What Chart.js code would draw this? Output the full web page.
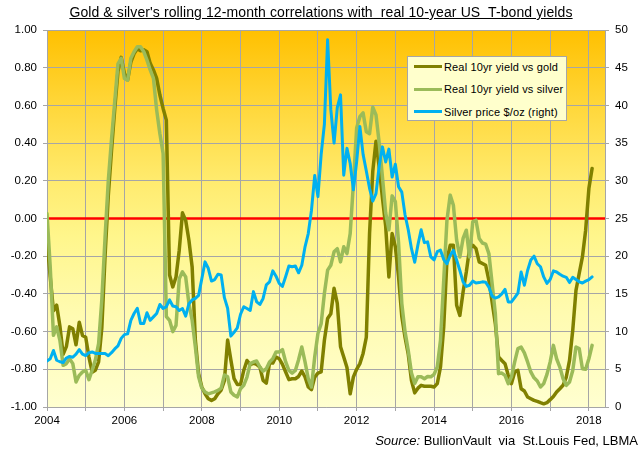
<!DOCTYPE html>
<html>
<head>
<meta charset="utf-8">
<script src="https://cdn.jsdelivr.net/npm/chart.js@4.4.1/dist/chart.umd.min.js"></script>
<style>
html,body{margin:0;padding:0;background:#fff;}
#wrap{position:relative;width:640px;height:452px;overflow:hidden;font-family:"Liberation Sans",Arial,sans-serif;color:#000;}
#c{position:absolute;left:0;top:0;}
#title{position:absolute;left:1px;top:4px;width:640px;text-align:center;font-size:14px;line-height:17px;letter-spacing:0.1px;text-decoration:underline;white-space:pre;}
#source{position:absolute;right:2px;top:433px;font-size:13px;line-height:15px;white-space:pre;}
#legend{position:absolute;left:407px;top:56px;width:158px;height:63px;background:#FFFFCC;border:1px solid #A6A6A6;}
.row{position:absolute;left:0;height:14px;width:158px;}
.sw{position:absolute;left:6px;top:5.5px;width:28px;height:3px;}
.lt{position:absolute;left:36px;top:0;font-size:11px;line-height:14px;letter-spacing:0.15px;white-space:pre;}
</style>
</head>
<body>
<div id="wrap">
<canvas id="c" width="640" height="452"></canvas>
<div id="title">Gold &amp; silver's rolling 12-month correlations with  real 10-year US  T-bond yields</div>
<div id="legend">
  <div class="row" style="top:2.7px"><span class="sw" style="background:#808000"></span><span class="lt">Real 10yr yield vs gold</span></div>
  <div class="row" style="top:25.3px"><span class="sw" style="background:#9BBB59"></span><span class="lt">Real 10yr yield vs silver</span></div>
  <div class="row" style="top:47.7px"><span class="sw" style="background:#00B0F0"></span><span class="lt">Silver price $/oz (right)</span></div>
</div>
<div id="source"><i>Source:</i> BullionVault  via  St.Louis Fed, LBMA</div>
</div>
<script>
// Monthly data, Jan 2004 .. Feb 2018 (index 0 = Jan 2004)
const startYear = 2004;
const yearTickYears = [2004,2005,2006,2007,2008,2009,2010,2011,2012,2013,2014,2015,2016,2017,2018];
const yearLabels = ['2004','2006','2008','2010','2012','2014','2016','2018'];

const goldCorr = [
 -0.12,-0.31,-0.49,-0.46,-0.57,-0.72,-0.68,-0.575,-0.585,-0.67,-0.55,-0.62,
 -0.63,-0.735,-0.815,-0.805,-0.76,-0.58,-0.2,0.12,0.36,0.58,0.78,0.855,
 0.77,0.735,0.83,0.875,0.9,0.89,0.895,0.885,0.823,0.788,0.743,0.655,
 0.584,0.522,-0.3,-0.363,-0.31,-0.168,0.03,-0.01,-0.115,-0.257,-0.646,-0.823,
 -0.894,-0.93,-0.956,-0.965,-0.956,-0.93,-0.91,-0.86,-0.645,-0.75,-0.85,-0.88,
 -0.88,-0.806,-0.753,-0.776,-0.767,-0.774,-0.788,-0.859,-0.873,-0.767,-0.767,-0.735,
 -0.744,-0.774,-0.814,-0.855,-0.85,-0.85,-0.838,-0.809,-0.841,-0.894,-0.908,-0.841,
 -0.82,-0.814,-0.646,-0.53,-0.505,-0.37,-0.45,-0.68,-0.735,-0.79,-0.93,-0.84,
 -0.80,-0.77,-0.716,-0.63,-0.08,0.25,0.41,0.27,0.11,-0.04,-0.31,-0.08,
 -0.15,-0.31,-0.52,-0.63,-0.72,-0.86,-0.925,-0.9,-0.885,-0.89,-0.89,-0.89,
 -0.894,-0.876,-0.788,-0.575,-0.221,-0.142,-0.142,-0.46,-0.514,-0.39,-0.284,-0.16,
 -0.142,-0.16,-0.23,-0.239,-0.248,-0.328,-0.443,-0.558,-0.735,-0.753,-0.77,-0.832,
 -0.876,-0.814,-0.806,-0.903,-0.915,-0.947,-0.956,-0.965,-0.97,-0.977,-0.983,-0.977,
 -0.961,-0.944,-0.92,-0.903,-0.885,-0.841,-0.753,-0.593,-0.381,-0.292,-0.204,-0.062,
 0.159,0.265
];

const silverCorr = [
 0.026,-0.257,-0.62,-0.575,-0.646,-0.779,-0.77,-0.744,-0.77,-0.867,-0.832,-0.814,
 -0.805,-0.855,-0.805,-0.75,-0.664,-0.43,-0.1,0.2,0.42,0.62,0.82,0.85,
 0.743,0.734,0.85,0.885,0.911,0.911,0.885,0.84,0.788,0.743,0.575,0.45,
 0.345,-0.52,-0.54,-0.6,-0.567,-0.32,-0.283,-0.31,-0.452,-0.54,-0.682,-0.84,
 -0.9,-0.92,-0.93,-0.925,-0.92,-0.912,-0.9,-0.83,-0.84,-0.92,-0.938,-0.947,
 -0.903,-0.885,-0.841,-0.77,-0.761,-0.756,-0.788,-0.81,-0.797,-0.761,-0.744,-0.708,
 -0.708,-0.696,-0.761,-0.806,-0.82,-0.806,-0.749,-0.682,-0.761,-0.85,-0.894,-0.735,
 -0.61,-0.558,-0.398,-0.274,-0.248,-0.177,-0.16,-0.23,-0.15,-0.186,-0.08,0.186,
 0.48,0.54,0.56,0.46,0.45,0.59,0.55,0.40,0.22,0.03,-0.06,0.12,
 0.09,-0.13,-0.45,-0.6,-0.7,-0.82,-0.875,-0.84,-0.84,-0.85,-0.838,-0.84,
 -0.827,-0.788,-0.646,-0.328,-0.009,0.124,0.07,-0.115,-0.204,-0.106,-0.062,-0.204,
 -0.018,-0.009,-0.106,-0.13,-0.136,-0.186,-0.345,-0.505,-0.823,-0.82,-0.832,-0.876,
 -0.84,-0.761,-0.69,-0.682,-0.713,-0.761,-0.814,-0.845,-0.862,-0.894,-0.876,-0.827,
 -0.761,-0.673,-0.744,-0.788,-0.85,-0.885,-0.867,-0.806,-0.682,-0.69,-0.797,-0.80,
 -0.744,-0.673
];

const silverPrice = [
 6.1,6.4,7.5,6.2,6.0,5.9,6.5,6.7,6.6,7.0,7.6,7.0,
 6.8,7.2,7.3,7.1,7.1,7.1,7.1,6.8,7.2,7.7,8.1,9.1,
 9.6,9.7,11.5,12.4,13.1,11.07,11.07,12.5,11.5,11.95,12.4,13.6,
 13.06,13.3,14.2,13.4,13.3,12.8,13.06,12.04,13.7,14.2,14.4,14.8,
 17.0,19.25,18.4,16.7,16.9,17.6,17.5,14.5,13.1,9.4,9.9,10.5,
 12.3,13.3,13.06,12.8,15.3,13.95,13.6,14.4,16.2,16.6,18.06,17.35,
 16.4,16.0,17.3,18.7,18.6,18.7,17.8,18.8,21.25,23.0,26.1,30.7,
 27.9,33.5,37.5,48.7,39.4,35.0,39.7,41.4,30.75,34.3,32.3,28.8,
 32.5,37.2,33.5,31.3,29.0,27.3,28.3,32.0,34.5,32.5,34.2,30.5,
 32.2,29.2,28.5,25.5,23.5,21.0,19.2,21.5,23.5,21.8,21.9,19.9,
 19.5,20.6,20.8,19.55,19.0,20.1,20.8,19.5,18.1,16.6,16.0,16.15,
 16.7,16.45,16.5,16.6,16.55,15.9,14.7,14.45,14.6,15.0,15.6,13.94,
 13.94,14.5,15.1,17.9,16.15,18.1,19.5,20.0,19.0,18.6,17.25,16.4,
 16.9,18.05,17.9,17.6,17.35,17.2,16.5,17.2,16.9,16.6,16.45,16.7,
 16.9,17.25
];

const seriesLabels = ['Real 10yr yield vs gold','Real 10yr yield vs silver','Silver price $/oz (right)'];
const seriesColors = ['#808000','#9BBB59','#00B0F0'];

const toPoints = arr => arr.map((v,i)=>({x:i,y:v}));
const yearTickValues = yearTickYears.map(y => (y - startYear) * 12);

const bgPlugin = {
  id:'bgPlugin',
  beforeDraw(chart){
    const {ctx, chartArea:{left,top,right,bottom}} = chart;
    ctx.save();
    ctx.fillStyle = '#ffffff';
    ctx.fillRect(0,0,chart.width,chart.height);
    const g = ctx.createLinearGradient(0,top,0,bottom);
    g.addColorStop(0,'#FFC000');
    g.addColorStop(0.2,'#FFD73A');
    g.addColorStop(0.4,'#FFEB6E');
    g.addColorStop(0.55,'#FFF68C');
    g.addColorStop(0.75,'#FFFBB0');
    g.addColorStop(1,'#FFFFD0');
    ctx.fillStyle = g;
    ctx.fillRect(left,top,right-left,bottom-top);
    ctx.restore();
  },
  beforeDatasetsDraw(chart){
    const {ctx, chartArea:{left,right}, scales:{y}} = chart;
    const py = y.getPixelForValue(0);
    ctx.save();
    ctx.strokeStyle = '#FF0000';
    ctx.lineWidth = 2.5;
    ctx.beginPath();
    ctx.moveTo(left,py);
    ctx.lineTo(right,py);
    ctx.stroke();
    ctx.restore();
  }
};

const tickFont = {family:'"Liberation Sans", Arial, sans-serif', size:11.5};
const gridColor = '#A6A6A6';

new Chart(document.getElementById('c'), {
  type:'line',
  data:{
    datasets:[
      {label:seriesLabels[0], data:toPoints(goldCorr), borderColor:seriesColors[0], borderWidth:3.5, yAxisID:'y', order:3},
      {label:seriesLabels[1], data:toPoints(silverCorr), borderColor:seriesColors[1], borderWidth:3.5, yAxisID:'y', order:2},
      {label:seriesLabels[2], data:toPoints(silverPrice), borderColor:seriesColors[2], borderWidth:3, yAxisID:'y2', order:1}
    ]
  },
  options:{
    responsive:false,
    animation:false,
    events:[],
    elements:{
      line:{tension:0, borderJoinStyle:'round', borderCapStyle:'round', fill:false},
      point:{radius:0}
    },
    layout:{padding:{top:30,left:0,right:0,bottom:0}},
    plugins:{legend:{display:false}, tooltip:{enabled:false}, title:{display:false}},
    scales:{
      x:{
        type:'linear', min:0, max:173,
        afterBuildTicks(s){ s.ticks = yearTickValues.map(v=>({value:v})); },
        afterFit(s){ s.height = 45; },
        ticks:{
          autoSkip:false, maxRotation:0, padding:3, color:'#000', font:tickFont,
          callback(v){ const yr = String(startYear + Math.round(v/12)); return yearLabels.includes(yr) ? yr : ''; }
        },
        grid:{color:gridColor, lineWidth:1, tickLength:4},
        border:{color:gridColor}
      },
      y:{
        position:'left', min:-1, max:1,
        afterFit(s){ s.width = 47; },
        ticks:{stepSize:0.2, padding:6, color:'#000', font:tickFont,
          callback(v){ return Math.abs(v) < 1e-9 ? '0.00' : v.toFixed(2); }},
        grid:{color:gridColor, lineWidth:1, tickLength:4},
        border:{color:gridColor}
      },
      y2:{
        position:'right', min:0, max:50,
        afterFit(s){ s.width = 35; },
        ticks:{stepSize:5, padding:6, color:'#000', font:tickFont},
        grid:{drawOnChartArea:false, color:gridColor, tickLength:4},
        border:{color:gridColor}
      }
    }
  },
  plugins:[bgPlugin]
});
</script>
</body>
</html>
